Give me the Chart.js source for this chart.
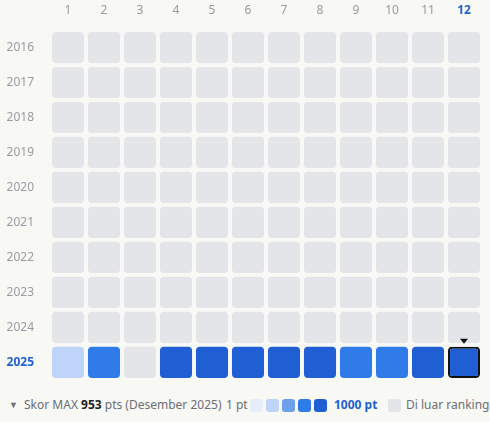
<!DOCTYPE html>
<html><head><meta charset="utf-8">
<script src="https://cdn.jsdelivr.net/npm/chart.js@4"></script>
<style>
body{margin:0;background:#f8f8f5;font-family:"Noto Sans","Open Sans",sans-serif;}
#wrap{position:relative;width:490px;height:395px;}
#foot{position:absolute;top:396px;left:0;width:490px;height:20px;font-size:12px;color:#6b6f76;}
#foot span{position:absolute;top:0;line-height:18px;}
.sw{position:absolute;top:3px;width:13px;height:13px;border-radius:3px;}
</style></head><body>
<div id="wrap"><canvas id="c" width="490" height="395"></canvas></div>
<div id="foot">
<span style="left:9px;font-size:9px;">&#9660;</span>
<span style="left:24px;">Skor MAX <b style="color:#222">953</b> pts (Desember 2025)</span>
<span style="left:226px;">1 pt</span>
<div class="sw" style="left:250px;background:#e6eefb"></div>
<div class="sw" style="left:266px;background:#bed4f8"></div>
<div class="sw" style="left:282px;background:#6ea0ec"></div>
<div class="sw" style="left:298px;background:#2f7ce8"></div>
<div class="sw" style="left:314px;background:#1f5fd3"></div>
<span style="left:334px;color:#1f5fd3;font-weight:bold;">1000 pt</span>
<div class="sw" style="left:388px;background:#e4e5e9"></div>
<span style="left:406px;">Di luar ranking</span>
</div>
<script>
const months = ['1','2','3','4','5','6','7','8','9','10','11','12'];
const years = ['2016','2017','2018','2019','2020','2021','2022','2023','2024','2025'];
// scores per year (null = outside ranking)
const scores2025 = [150, 620, null, 900, 900, 900, 900, 900, 640, 640, 900, 953];
const empty = [null,null,null,null,null,null,null,null,null,null,null,null];
const scoreRows = [empty,empty,empty,empty,empty,empty,empty,empty,empty,scores2025];
const selYear = 9, selMonth = 11;

function col(v){
  if(v==null) return '#e4e5e9';
  if(v<100) return '#e6eefb';
  if(v<400) return '#bed4f8';
  if(v<550) return '#6ea0ec';
  if(v<800) return '#2f7ce8';
  return '#1f5fd3';
}
const datasets = scoreRows.map((row,r)=>({
  data: row.map(()=>[r-0.445, r+0.445]),
  backgroundColor: row.map(col),
  borderColor: row.map((v,m)=> (r===selYear&&m===selMonth)?'#111':'rgba(0,0,0,0)'),
  borderWidth: row.map((v,m)=> (r===selYear&&m===selMonth)?2:0),
  borderSkipped:false,
  borderRadius:4,
  categoryPercentage:1, barPercentage:0.89, grouped:false
}));
const marker = {id:'marker', afterDatasetsDraw(ch){
  const c=ch.ctx, x=ch.scales.x.getPixelForValue(selMonth), y=ch.scales.y.getPixelForValue(selYear-0.5);
  c.save(); c.fillStyle='#111'; c.beginPath();
  c.moveTo(x-4,y-6); c.lineTo(x+4,y-6); c.lineTo(x,y-1); c.fill(); c.restore();
}};
new Chart(document.getElementById('c'),{
  type:'bar',
  data:{labels:months, datasets},
  options:{
    responsive:false, animation:false,
    layout:{padding:{right:8,top:0,left:0,bottom:0}},
    plugins:{legend:{display:false},tooltip:{enabled:false}},
    scales:{
      x:{position:'top', grid:{display:false}, border:{display:false},
        afterFit(s){s.height=30;},
        ticks:{padding:4,font:{family:'Noto Sans',size:12,weight:(c)=>c.index===selMonth?'bold':'normal'},
          color:(c)=>c.index===selMonth?'#1f5fd3':'#9a9aa2'}},
      y:{type:'linear', reverse:true, min:-0.5, max:9.5, grid:{display:false}, border:{display:false},
        afterFit(s){s.width=50;},
        afterBuildTicks(s){s.ticks=years.map((y,i)=>({value:i}));},
        ticks:{padding:8, callback:(v)=>years[v],
          font:(c)=>({family:'Noto Sans',size:12,weight:c.index===selYear?'bold':'normal'}),
          color:(c)=>c.index===selYear?'#1f5fd3':'#9a9aa2'}}
    }
  },
  plugins:[marker]
});
</script></body></html>
